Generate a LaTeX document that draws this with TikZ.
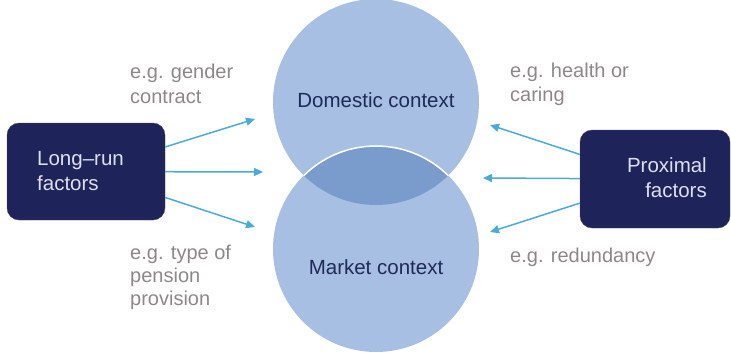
\documentclass[tikz,border=0pt]{standalone}
\usepackage{fontspec}
\setmainfont{Liberation Sans}
\usetikzlibrary{arrows.meta}
\definecolor{circfill}{RGB}{166,191,226}
\definecolor{overlap}{RGB}{122,156,205}
\definecolor{navybox}{RGB}{30,36,89}
\definecolor{boxtext}{RGB}{220,224,238}
\definecolor{ctxtext}{RGB}{32,42,88}
\definecolor{egtext}{RGB}{140,136,136}
\definecolor{arrowblue}{RGB}{75,170,216}
\tikzset{
  factorbox/.style={draw=black!70, fill=navybox, rounded corners=12pt, text=boxtext, font=\fontsize{20.5}{24.5}\selectfont, inner sep=0pt},
  egnote/.style={draw=none, text=egtext, align=left, anchor=base west, inner sep=0pt, font=\fontsize{20}{24.5}\selectfont},
  ctxlabel/.style={draw=none, text=ctxtext, inner sep=0pt, font=\fontsize{20.5}{24}\selectfont},
  factorarrow/.style={draw=arrowblue, line width=1.5pt, -{Triangle[length=9pt,width=8pt]}}
}
\begin{document}
\begin{tikzpicture}[x=1pt,y=-1pt]
    \useasboundingbox (0,0) rectangle (731,353);

    % context circles
    \fill [circfill] (376,102) circle [radius=103];
    \fill [circfill] (376,249) circle [radius=103];
    \begin{scope}
      \clip (376,102) circle [radius=103];
      \fill [overlap] (376,249) circle [radius=103];
      \draw [white, line width=1.5pt] (376,249) circle [radius=103];
    \end{scope}
    \node [ctxlabel, name=dom] at (376,100) {Domestic context};
    \node [ctxlabel, name=mkt] at (376,267) {Market context};

    % long-run factors
    \node [factorbox, minimum width=158pt, minimum height=97pt, name=longrun] at (86,171.5) {};
    \node [draw=none, text=boxtext, align=left, anchor=base west, inner sep=0pt, font=\fontsize{20.5}{25}\selectfont, name=longruntext] at (37,190) {Long--run\\factors};
    \coordinate (l1) at (255,119);
    \coordinate (l2) at (263,172);
    \coordinate (l3) at (255,227);
    \draw [factorarrow] (longrun) -- (l1);
    \draw [factorarrow] (longrun) -- (l2);
    \draw [factorarrow] (longrun) -- (l3);
    \node [egnote, name=gender] at (130,103) {e.g. gender\\contract};
    \node [egnote, name=pension, font=\fontsize{20}{23}\selectfont] at (130,305) {e.g. type of\\pension\\provision};

    % proximal factors
    \node [factorbox, minimum width=150pt, minimum height=98pt, name=proximal] at (655,179) {};
    \node [draw=none, text=boxtext, align=right, anchor=base east, inner sep=0pt, font=\fontsize{20.5}{24.5}\selectfont, name=proximaltext] at (707,197) {Proximal\\factors};
    \coordinate (r1) at (490,125);
    \coordinate (r2) at (483,178);
    \coordinate (r3) at (490,232);
    \draw [factorarrow] (proximal) -- (r1);
    \draw [factorarrow] (proximal) -- (r2);
    \draw [factorarrow] (proximal) -- (r3);
    \node [egnote, name=health] at (510,102) {e.g. health or\\caring};
    \node [egnote, name=redundancy] at (510,262) {e.g. redundancy};
\end{tikzpicture}
\end{document}
